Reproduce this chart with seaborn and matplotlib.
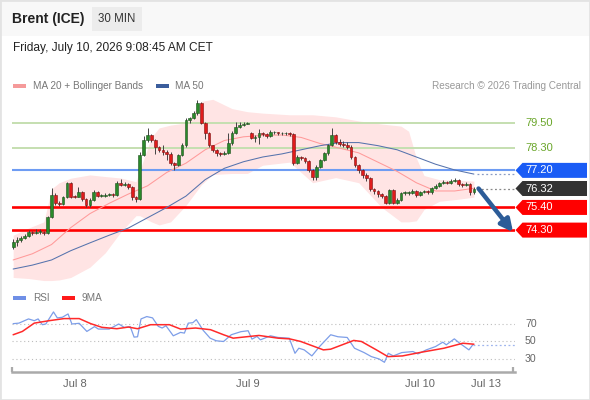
import numpy as np
import pandas as pd
import matplotlib
matplotlib.use("Agg")
import matplotlib.pyplot as plt
import matplotlib.transforms as mtransforms
from matplotlib.patches import Polygon, Rectangle
import seaborn as sns

# ---------------- data ----------------
title = "Brent (ICE)"
timeframe = "30 MIN"
timestamp = "Friday, July 10, 2026 9:08:45 AM CET"
credit = "Research \u00a9 2026 Trading Central"

opens = [73.47, 73.74, 73.80, 73.93, 74.00, 74.22, 74.17, 74.20, 74.22, 74.15,
         74.95, 76.00, 75.60, 75.55, 75.90, 76.60, 75.93, 75.92, 76.17, 75.80,
         75.52, 75.76, 76.17, 75.98, 75.98, 76.00, 76.05, 76.00, 76.60, 76.50,
         76.55, 76.40, 75.92, 75.80, 77.95, 78.67, 78.92, 78.67, 78.35, 78.19,
         78.08, 78.00, 77.54, 77.46, 77.95, 78.43, 79.65, 79.74, 79.98, 80.47,
         79.50, 79.00, 78.43, 78.20, 78.05, 78.00, 78.05, 78.53, 79.00, 79.30,
         79.40, 79.45, 79.00, 78.77, 78.80, 79.00, 78.95, 78.85, 79.05, 79.05,
         79.00, 79.00, 79.00, 78.95, 77.54, 77.85, 77.80, 77.65, 77.22, 76.90,
         77.38, 77.70, 78.03, 78.43, 78.90, 78.60, 78.50, 78.45, 78.35, 77.86,
         77.46, 77.22, 76.97, 76.83, 76.30, 76.20, 76.05, 75.95, 75.62, 76.25,
         75.62, 75.75, 76.10, 76.10, 76.10, 76.20, 76.00, 76.15, 76.20, 76.15,
         76.35, 76.45, 76.60, 76.65, 76.60, 76.70, 76.75, 76.55, 76.50, 76.55,
         76.15]
closes = [73.74, 73.80, 73.93, 74.00, 74.22, 74.17, 74.20, 74.22, 74.15, 74.95,
          76.00, 75.60, 75.55, 75.90, 76.60, 75.93, 75.92, 76.17, 75.80, 75.52,
          75.76, 76.17, 75.98, 75.98, 76.00, 76.05, 76.00, 76.60, 76.50, 76.55,
          76.40, 75.92, 75.80, 77.95, 78.67, 78.92, 78.67, 78.35, 78.19, 78.08,
          78.00, 77.54, 77.46, 77.95, 78.43, 79.65, 79.74, 79.98, 80.47, 79.50,
          79.00, 78.43, 78.20, 78.05, 78.00, 78.05, 78.53, 79.00, 79.30, 79.40,
          79.45, 79.52, 78.77, 78.80, 79.00, 78.95, 78.85, 79.05, 79.05, 79.00,
          79.00, 79.00, 78.95, 77.54, 77.85, 77.80, 77.65, 77.22, 76.90, 77.38,
          77.70, 78.03, 78.43, 78.90, 78.60, 78.50, 78.45, 78.35, 77.86, 77.46,
          77.22, 76.97, 76.83, 76.30, 76.20, 76.05, 75.95, 75.62, 76.25, 75.62,
          75.75, 76.10, 76.10, 76.10, 76.20, 76.00, 76.15, 76.20, 76.15, 76.35,
          76.45, 76.60, 76.65, 76.60, 76.70, 76.75, 76.55, 76.50, 76.55, 76.15,
          76.32]
highs = [73.85, 73.95, 74.00, 74.10, 74.30, 74.28, 74.33, 74.35, 74.28, 75.00,
         76.34, 76.10, 75.70, 75.95, 76.65, 76.65, 76.00, 76.40, 76.20, 75.85,
         75.85, 76.25, 76.20, 76.05, 76.08, 76.12, 76.10, 76.70, 76.80, 76.65,
         76.60, 76.45, 75.95, 78.10, 78.85, 79.26, 78.95, 78.70, 78.40, 78.45,
         78.20, 78.10, 77.60, 78.00, 78.55, 79.75, 79.80, 80.10, 80.62, 80.50,
         79.55, 79.05, 78.45, 78.25, 78.10, 78.15, 79.00, 79.10, 79.55, 79.55,
         79.55, 79.55, 79.05, 78.90, 79.20, 79.05, 79.00, 79.15, 79.12, 79.08,
         79.06, 79.06, 79.05, 79.00, 77.95, 77.90, 77.85, 77.70, 77.25, 77.45,
         77.75, 78.10, 78.50, 79.26, 78.95, 78.70, 78.65, 78.60, 78.45, 77.90,
         77.50, 77.25, 77.05, 76.90, 76.35, 76.25, 76.10, 76.00, 76.30, 76.30,
         75.85, 76.15, 76.18, 76.20, 76.28, 76.25, 76.20, 76.25, 76.25, 76.40,
         76.52, 76.65, 76.72, 76.70, 76.78, 76.85, 76.80, 76.60, 76.62, 76.58,
         76.40]
lows = [73.37, 73.55, 73.72, 73.85, 73.95, 74.08, 74.10, 74.12, 74.08, 74.10,
        74.90, 75.50, 75.45, 75.50, 75.85, 75.85, 75.85, 75.90, 75.70, 75.40,
        75.40, 75.70, 75.90, 75.90, 75.92, 75.95, 75.93, 75.95, 76.42, 76.45,
        76.30, 75.75, 75.65, 75.75, 77.90, 78.60, 78.60, 78.00, 78.10, 77.95,
        77.70, 77.45, 77.22, 77.40, 77.90, 78.35, 79.50, 79.70, 79.90, 79.45,
        78.70, 78.35, 78.10, 77.90, 77.90, 77.95, 78.00, 78.45, 78.95, 79.25,
        79.35, 79.45, 78.70, 78.60, 78.50, 78.85, 78.75, 78.80, 78.95, 78.93,
        78.94, 78.94, 78.88, 77.45, 77.50, 77.72, 77.55, 77.10, 76.73, 76.75,
        77.30, 77.65, 77.95, 78.40, 78.50, 78.40, 78.35, 78.25, 77.75, 77.35,
        77.05, 76.85, 76.70, 76.20, 76.05, 75.90, 75.85, 75.55, 75.55, 75.55,
        75.55, 75.70, 76.02, 76.02, 76.05, 75.92, 75.95, 76.08, 76.05, 76.05,
        76.30, 76.40, 76.55, 76.52, 76.55, 76.65, 76.45, 76.40, 76.42, 76.00,
        76.05]

ma_idx = [0, 5, 10, 15, 20, 25, 30, 35, 40, 45, 50, 55, 60, 65, 70, 75, 80,
          85, 90, 95, 100, 105, 110, 115, 120]
ma20 = [72.85, 73.15, 73.60, 74.42, 75.10, 75.60, 76.05, 76.45, 77.10, 77.55,
        78.20, 78.65, 78.83, 78.90, 78.92, 78.80, 78.50, 78.28, 78.05, 77.60,
        77.15, 76.60, 76.20, 76.20, 76.33]
ma50 = [72.41, 72.60, 72.85, 73.30, 73.68, 74.05, 74.40, 74.90, 75.40, 75.95,
        76.75, 77.30, 77.62, 77.85, 78.00, 78.20, 78.40, 78.55, 78.55, 78.40,
        78.20, 77.85, 77.50, 77.22, 77.02]

band_idx = [0, 4, 8, 10, 12, 15, 20, 24, 28, 32, 33, 36, 38, 41, 45, 49, 52,
            57, 61, 65, 72, 78, 84, 90, 96, 101, 103, 105, 107, 111, 116, 120]
band_upper = [74.05, 74.40, 74.70, 76.30, 76.60, 76.82, 76.98, 76.90, 76.83,
              76.65, 77.20, 78.80, 79.26, 79.40, 79.50, 80.55, 80.65, 80.20,
              80.05, 79.98, 79.90, 79.90, 79.80, 79.60, 79.45, 79.35, 79.10,
              77.80, 76.95, 76.75, 76.72, 76.68]
band_lower = [72.00, 71.95, 71.85, 71.85, 71.88, 72.00, 72.50, 73.20, 74.20,
              75.00, 75.00, 74.70, 74.55, 74.70, 75.50, 76.50, 77.00, 77.05,
              77.05, 77.45, 77.60, 76.60, 76.85, 76.60, 75.40, 74.70, 74.70,
              74.75, 75.30, 75.70, 75.80, 75.90]

levels = [79.50, 78.30, 77.20, 75.40, 74.30]
level_kind = ["resistance", "resistance", "pivot", "support", "support"]

rsi_idx = [0, 1.5, 4, 5.5, 6.5, 7.6, 8.5, 10.5, 11.5, 12.8, 14.3, 15.3, 17.2,
           19.2, 21.2, 22.2, 25, 27.5, 29, 30.5, 31.5, 32.4, 33.3, 34.8, 36.3,
           37.8, 38.8, 39.8, 41.7, 43.6, 44.6, 45.6, 46.8, 47.7, 49.5, 51.3,
           52.9, 54.8, 56.8, 59.3, 61.2, 62.2, 63.5, 64.4, 67, 69, 71.9, 73.4,
           74.4, 75.8, 77.8, 79.8, 82.7, 84.6, 87, 88.9, 91.4, 93.3, 95.3, 96.7,
           97.7, 99, 101.2, 104.1, 105.4, 107.6, 110, 111.9, 112.8, 114.9,
           116.3, 118.7, 119.7]
rsi = [70.4, 71.0, 75.8, 73.8, 75.8, 69.2, 70.0, 83.8, 77.0, 77.7, 81.5, 70.0,
       70.8, 61.5, 67.0, 64.2, 64.2, 70.0, 66.0, 67.0, 55.0, 55.4, 75.8, 78.5,
       77.0, 67.3, 65.4, 68.0, 56.5, 60.4, 59.6, 71.0, 71.5, 75.0, 62.7, 53.8,
       50.8, 50.0, 57.7, 61.2, 62.3, 52.7, 55.8, 51.9, 56.5, 54.6, 53.8, 36.5,
       42.3, 40.4, 33.5, 44.2, 57.7, 55.4, 54.6, 42.3, 37.3, 32.7, 30.0, 26.2,
       36.5, 33.5, 37.3, 38.5, 35.8, 40.4, 44.2, 49.2, 46.2, 53.0, 48.0, 40.4,
       46.2]
ma9_idx = [0, 2.4, 5.5, 9.4, 13.3, 17.2, 20.2, 23.1, 27, 30, 32.4, 35.8, 40.7,
           43.6, 47.5, 51.4, 54.8, 57.3, 64, 69, 72, 74.9, 80.8, 82.7, 88.7,
           90.7, 94.6, 97.6, 101.4, 106.3, 112.2, 117.1, 120]
ma9 = [57.7, 61.5, 71.0, 73.8, 76.2, 76.2, 70.4, 66.2, 64.6, 66.5, 64.6, 69.2,
       69.2, 64.2, 65.4, 63.5, 57.7, 53.8, 56.9, 53.8, 53.0, 50.0, 40.4, 41.2,
       51.2, 50.0, 40.4, 32.7, 33.5, 37.7, 42.3, 48.0, 46.9]
rsi_levels = [70, 50, 30]

tick_pos = [16.1, 61.2, 106.0, 123.2]
tick_labels = ["Jul 8", "Jul 9", "Jul 10", "Jul 13"]

# ---------------- style ----------------
sns.set_theme(style="white")
plt.rcParams['font.family'] = ['Liberation Sans', 'DejaVu Sans']

W, H = 590, 400
def fx(px): return px / W
def fy(py): return 1 - py / H

fig = plt.figure(figsize=(5.9, 4.0), dpi=100)
fig.patch.set_facecolor('white')

XL, XR = -0.3, 130.7
YB, YT = 71.78, 80.86

# header band
fig.patches.append(Rectangle((0, fy(36)), 1, 36 / H, transform=fig.transFigure,
                             facecolor='#f8f8f8', edgecolor='none', zorder=0))
fig.patches.append(Rectangle((fx(92), fy(31)), 50 / W, 24 / H, transform=fig.transFigure,
                             facecolor='#ececec', edgecolor='none', zorder=1))
fig.text(fx(12), fy(19), title, fontsize=10, fontweight='bold', color='#222222', va='center')
fig.text(fx(117), fy(19), timeframe, fontsize=8.3, color='#333333', va='center', ha='center')
fig.text(fx(13), fy(48), timestamp, fontsize=8.6, color='#222222', va='center')

# legends
fig.patches.append(Rectangle((fx(13), fy(88)), 13 / W, 4 / H, transform=fig.transFigure,
                             facecolor='#f59a9a', edgecolor='none'))
fig.text(fx(33), fy(86), "MA 20 + Bollinger Bands", fontsize=7.2, color='#777777', va='center')
fig.patches.append(Rectangle((fx(156), fy(88)), 13 / W, 4 / H, transform=fig.transFigure,
                             facecolor='#3b5d9c', edgecolor='none'))
fig.text(fx(175), fy(86), "MA 50", fontsize=7.2, color='#777777', va='center')
fig.text(fx(581), fy(86), credit, fontsize=7.2, color='#999999', va='center', ha='right')

fig.patches.append(Rectangle((fx(13), fy(300)), 13 / W, 4 / H, transform=fig.transFigure,
                             facecolor='#6f8fe6', edgecolor='none'))
fig.text(fx(33), fy(298), "RSI", fontsize=7.2, color='#777777', va='center')
fig.patches.append(Rectangle((fx(62), fy(300)), 13 / W, 4 / H, transform=fig.transFigure,
                             facecolor='#ff1a1a', edgecolor='none'))
fig.text(fx(82), fy(298), "9MA", fontsize=7.2, color='#777777', va='center')

# ---------------- main price axes ----------------
ax = fig.add_axes([fx(12), fy(282), fx(515) - fx(12), fy(95) - fy(282)])
ax.set_xlim(XL, XR)
ax.set_ylim(YB, YT)
ax.axis('off')

ax.fill_between(band_idx, band_lower, band_upper, color='#ffe4e4', lw=0, zorder=1)

ma_df = pd.DataFrame({'i': ma_idx, 'ma20': ma20, 'ma50': ma50})
sns.lineplot(data=ma_df, x='i', y='ma20', ax=ax, color='#ff9a9a', lw=0.75, zorder=2)
sns.lineplot(data=ma_df, x='i', y='ma50', ax=ax, color='#5673ad', lw=0.75, zorder=2)

level_style = {"resistance": ('#c5dfb0', 1.4), "pivot": ('#6e9cf3', 1.5),
               "support": ('#ff0000', 1.9)}
for lv, kind in zip(levels, level_kind):
    col, lw = level_style[kind]
    ax.axhline(lv, color=col, lw=lw, zorder=1.5)

o = np.array(opens); c = np.array(closes); h = np.array(highs); l = np.array(lows)
n = len(c)
idx = np.arange(n)
up = c >= o
ax.vlines(idx, l, h, color='#444444', lw=0.7, zorder=3)
ax.bar(idx, np.maximum(np.abs(c - o), 0.035), bottom=np.minimum(o, c), width=0.72,
       color=np.where(up, '#2a8a2a', '#e01b1b'),
       edgecolor=np.where(up, '#1d4f1d', '#7a1010'), linewidth=0.4, zorder=4)

last = c[-1]
ax.hlines(last, n - 0.3, XR, colors='#888888', linestyles=(0, (1.5, 2)), lw=0.9, zorder=2)
ax.hlines(ma50[-1], n - 0.3, XR, colors='#8a9cc4', linestyles=(0, (1.5, 2)), lw=0.9, zorder=2)

ax.annotate('', xy=(XR - 0.5, levels[-1] - 0.1), xytext=(n + 0.2, last),
            arrowprops=dict(arrowstyle='-|>', color='#2c5c98', lw=3.2,
                            mutation_scale=18, shrinkA=0, shrinkB=0),
            annotation_clip=False, zorder=6)

# ---------------- right-hand tags ----------------
tx = fig.add_axes([fx(505), fy(282), fx(590) - fx(505), fy(95) - fy(282)])
tx.set_xlim(505, 590)
tx.set_ylim(YB, YT)
tx.axis('off')
hh = 7.5 / 20.6
tag_colors = {"pivot": '#1a5cf5', "support": '#ff0000', "last": '#333333'}
tags = [(lv, k) for lv, k in zip(levels, level_kind)] + [(last, "last")]
for lv, kind in tags:
    if kind == "resistance":
        tx.text(525, lv, f"{lv:.2f}", color='#6aa62a', fontsize=8, va='center')
        continue
    poly = Polygon([(515.5, lv), (522.5, lv + hh), (587, lv + hh), (587, lv - hh),
                    (522.5, lv - hh)], closed=True, facecolor=tag_colors[kind],
                   edgecolor='none', zorder=5)
    tx.add_patch(poly)
    tx.text(525, lv, f"{lv:.2f}", color='white', fontsize=8, va='center', zorder=6)

# ---------------- RSI axes ----------------
rx = fig.add_axes([fx(12), fy(372), fx(515) - fx(12), fy(308) - fy(372)])
rx.set_xlim(XL, XR)
rx.set_ylim(15.1, 88.3)
for v in rsi_levels:
    rx.axhline(v, color='#bdbdbd', lw=0.8, ls=(0, (1, 2.5)), zorder=1)
sns.lineplot(x=rsi_idx, y=rsi, ax=rx, color='#7d9ee8', lw=0.9, zorder=3)
sns.lineplot(x=ma9_idx, y=ma9, ax=rx, color='#ff2a2a', lw=1.1, zorder=4)
rx.hlines(rsi[-1], rsi_idx[-1], XR, colors='#9fb5ee', linestyles=(0, (1.5, 2)), lw=0.9)

for s in ['top', 'left', 'right']:
    rx.spines[s].set_visible(False)
rx.spines['bottom'].set_color('#aaaaaa')
rx.spines['bottom'].set_linewidth(1.8)
rx.set_yticks([])
rx.set_xticks(tick_pos)
rx.set_xticklabels(tick_labels)
rx.tick_params(axis='x', length=0, labelsize=8, labelcolor='#666666', pad=5)
rx.set_xlabel(''); rx.set_ylabel('')
for xe in (XL + 0.05, 130.3):
    rx.plot([xe, xe], [15.1, 15.1 + 5 / 0.875], color='#aaaaaa', lw=1.6,
            clip_on=False, solid_capstyle='butt')

btr = mtransforms.blended_transform_factory(fig.transFigure, rx.transData)
for v in rsi_levels:
    rx.text(fx(525), v, str(v), transform=btr, fontsize=7.6, color='#666666', va='center')

# border
fig.patches.append(Rectangle((0, 0), 1, 1, transform=fig.transFigure, fill=False,
                             edgecolor='#e3e3e3', lw=2, zorder=10))

fig.savefig('out.png', dpi=100)
